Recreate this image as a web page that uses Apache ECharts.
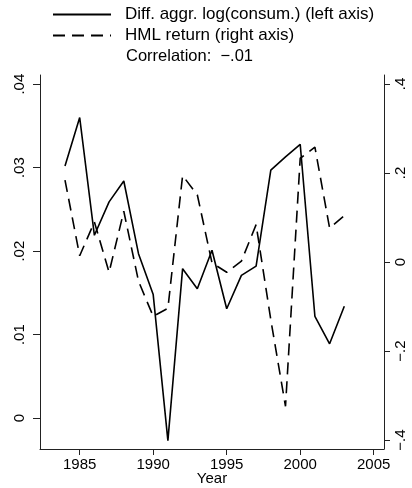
<!DOCTYPE html>
<html>
<head>
    <meta charset="utf-8">
    <title>Consumption growth and HML return</title>
    <script type="text/javascript" src="https://cdn.jsdelivr.net/npm/echarts@6/dist/echarts.min.js"></script>
    <style>
        html, body { margin: 0; padding: 0; background: #fff; }
    </style>
</head>
<body>
<div id="chartmain" style="width:412px; height:488px;"></div>

<script type="text/javascript">
    // data
    var years = [1984, 1985, 1986, 1987, 1988, 1989, 1990, 1991, 1992, 1993,
                 1994, 1995, 1996, 1997, 1998, 1999, 2000, 2001, 2002, 2003];
    var consum = [0.0302, 0.0360, 0.0219, 0.0259, 0.0284, 0.0197, 0.0148, -0.0027, 0.0179, 0.0155,
                  0.0201, 0.0131, 0.0171, 0.0182, 0.0297, 0.0313, 0.0328, 0.0122, 0.0089, 0.0134];
    var hml = [0.184, 0.014, 0.090, -0.023, 0.114, -0.043, -0.122, -0.104, 0.194, 0.151,
               -0.002, -0.023, 0.002, 0.084, -0.130, -0.324, 0.233, 0.258, 0.076, 0.104];

    var xTicks = [1985, 1990, 1995, 2000, 2005];
    var leftTicks = [0, 0.01, 0.02, 0.03, 0.04];
    var rightTicks = [-0.4, -0.2, 0, 0.2, 0.4];

    var consumName = 'Diff. aggr. log(consum.) (left axis)';
    var hmlName = 'HML return (right axis)';
    var corrText = 'Correlation:  \u2212.01';

    var font = 'Liberation Sans, Arial, Helvetica, sans-serif';

    // stata style: no leading zero, real minus sign
    function stataLabel(v, digits) {
        if (Math.abs(v) < 1e-9) return '0';
        var s = Math.abs(v).toFixed(digits).replace(/^0/, '');
        return (v < 0 ? '\u2212' : '') + s;
    }

    function pairs(xs, ys) {
        var out = [];
        for (var i = 0; i < xs.length; i++) out.push([xs[i], ys[i]]);
        return out;
    }

    var axisColor = '#222';

    var option = {
        animation: false,
        backgroundColor: '#fff',
        textStyle: { fontFamily: font },
        grid: { left: 40, right: 28, top: 75, bottom: 39, outerBoundsMode: 'none' },
        legend: {
            orient: 'vertical',
            left: 47,
            top: 1,
            itemWidth: 58,
            itemHeight: 14,
            itemGap: 4,
            data: [consumName, hmlName],
            itemStyle: { opacity: 0 },
            textStyle: { fontSize: 17, color: '#000', lineHeight: 17, padding: [0, 0, 0, 9], fontFamily: font }
        },
        graphic: [{
            type: 'text',
            left: 126,
            top: 48,
            style: { text: corrText, font: '16.5px ' + font, fill: '#000' }
        }],
        xAxis: {
            type: 'value',
            min: 1982.3,
            max: 2005.7,
            name: 'Year',
            nameLocation: 'middle',
            nameGap: 22,
            nameMoveOverlap: false,
            nameTextStyle: { fontSize: 15, color: '#000', fontFamily: font },
            splitLine: { show: false },
            axisLine: { show: true, onZero: false, lineStyle: { color: axisColor, width: 1 } },
            axisTick: { show: true, length: 6, customValues: xTicks, lineStyle: { color: axisColor } },
            axisLabel: {
                customValues: xTicks, fontSize: 15, color: '#000', margin: 8, fontFamily: font,
                formatter: function (v) { return String(v); }
            }
        },
        yAxis: [{
            type: 'value',
            position: 'left',
            min: -0.0037,
            max: 0.0411,
            splitLine: { show: false },
            axisLine: { show: true, onZero: false, lineStyle: { color: axisColor, width: 1 } },
            axisTick: { show: true, length: 7, customValues: leftTicks, lineStyle: { color: axisColor } },
            axisLabel: {
                customValues: leftTicks, rotate: 90, margin: 13, fontSize: 15, color: '#000', fontFamily: font,
                formatter: function (v) { return stataLabel(v, 2); }
            }
        }, {
            type: 'value',
            position: 'right',
            min: -0.42,
            max: 0.42,
            splitLine: { show: false },
            axisLine: { show: true, onZero: false, lineStyle: { color: axisColor, width: 1 } },
            axisTick: { show: true, length: 6, customValues: rightTicks, lineStyle: { color: axisColor } },
            axisLabel: {
                customValues: rightTicks, rotate: 90, margin: 9, fontSize: 15, color: '#000', fontFamily: font,
                formatter: function (v) { return stataLabel(v, 1); }
            }
        }],
        series: [{
            name: consumName,
            type: 'line',
            yAxisIndex: 0,
            symbol: 'none',
            color: '#000',
            lineStyle: { color: '#000', width: 1.6, type: 'solid' },
            data: pairs(years, consum)
        }, {
            name: hmlName,
            type: 'line',
            yAxisIndex: 1,
            symbol: 'none',
            color: '#000',
            lineStyle: { color: '#000', width: 1.6, type: [12, 7] },
            data: pairs(years, hml)
        }]
    };

    //初始化echarts实例
    var myChart = echarts.init(document.getElementById('chartmain'), null, { renderer: 'canvas' });
    myChart.setOption(option);
</script>
</body>
</html>
